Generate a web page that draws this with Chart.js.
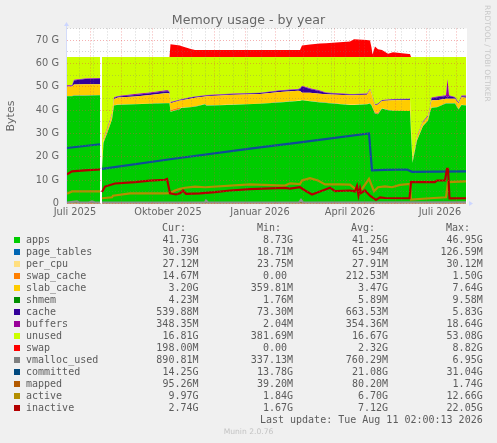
<!DOCTYPE html>
<html><head><meta charset="utf-8">
<script src="https://cdn.jsdelivr.net/npm/chart.js@4"></script>
<style>
html,body{margin:0;padding:0;background:#f0f0f0;width:497px;height:443px;overflow:hidden}
#wrap{position:relative;width:497px;height:443px}
canvas{position:absolute;left:0;top:0}
.t{position:absolute;font:10px/12px "DejaVu Sans Mono",monospace;color:#5c5c5c;white-space:pre}
.s{position:absolute;width:6px;height:6px}
</style></head><body>
<div id="wrap"><canvas id="c" width="497" height="443"></canvas></div>
<script>
// Days since the left edge of the one-year window
const days=[0,5,7,18,32,33,34,35,36.5,40,43,45,47,51,68,83,99,101,102.5,103.5,113,114,123,128,138,139.5,167,193,213,231,233,235,243,253,259,283,287,300,303,304.5,305.5,308,311,315,321,326,342,343,344,345.5,350,356,361,363,364.5,370,379,380.5,382,388,391.5,394.5,399];
// Stacked areas (gigabytes)
const apps=[46,46,46.2,46.2,46.4,46.4,null,15,26,30,33.5,36,42,42.3,42.5,42.7,43,43,43,39.3,40.4,40.9,41.2,41.5,42.5,41.9,42.3,42.7,43.3,43.9,43.9,44.2,43.8,43.3,43.1,42.2,42.2,42.5,42.8,42,41,38.5,38.3,40.7,40,39.7,39.6,39.6,30,17.5,27,33.2,35.5,39,41,41.2,42.9,42.9,42.9,42.9,40.3,42.2,42];
const page_tables=[.06,.06,.06,.06,.06,.06,null,.05,.05,.05,.05,.05,.06,.06,.06,.06,.06,.06,.06,.06,.06,.06,.06,.06,.06,.06,.06,.06,.06,.06,.06,.06,.06,.06,.06,.06,.06,.06,.06,.06,.06,.06,.06,.06,.06,.06,.06,.06,.06,.06,.06,.06,.06,.06,.06,.06,.06,.06,.06,.06,.06,.06,.06];
const per_cpu=[.03,.03,.03,.03,.03,.03,null,.04,.04,.04,.04,.04,.03,.03,.03,.03,.03,.03,.03,.03,.03,.03,.03,.03,.03,.03,.03,.03,.03,.03,.03,.03,.03,.03,.03,.03,.03,.03,.03,.03,.03,.03,.03,.03,.03,.03,.03,.03,.03,.03,.03,.03,.03,.03,.03,.03,.03,.03,.03,.03,.03,.03,.03];
const swap_cache=[0,0,0,0,0,0,null,0,0,0,0,0,0,0,0,0,0,0,0,.7,.8,0,0,0,0,0,0,0,0,0,0,0,0,0,0,0,0,0,0,0,0,.5,.5,0,0,0,0,0,0,0,0,0,0,0,0,0,0,0,0,0,0,0,0];
const slab_cache=[4,4,4.7,4.8,4.6,4.6,null,1,1.2,1.5,1.8,2,2.7,3,3.3,3.7,4.2,4.2,4,2.9,2.8,3.2,3.6,3.7,3.3,4,4.2,4.1,4.4,4.3,4.2,3.2,3.6,3.6,3.6,4.1,4.1,4,5.8,5,4.2,3,3.5,3.1,4,4.5,4.7,4.7,3.5,1,1.6,1.5,1.6,1.6,3.2,3,1.9,1.9,1.9,1.9,2.5,3.2,3.2];
const shmem=[.01,.01,.01,.01,.01,.01,null,.01,.01,.01,.01,.01,.01,.01,.01,.01,.01,.01,.01,.01,.01,.01,.01,.01,.01,.01,.01,.01,.01,.01,.01,.01,.01,.01,.01,.01,.01,.01,.01,.01,.01,.01,.01,.01,.01,.01,.01,.01,.01,.01,.01,.01,.01,.01,.01,.01,.01,.01,.01,.01,.01,.01,.01];
const cache=[.3,.3,1.7,2.2,2.4,2.4,null,.2,.3,.3,.3,.3,.4,.4,.6,.7,.8,.8,.5,.3,.3,.3,.4,.4,.3,.3,.3,.4,.5,.6,.9,2.7,1.6,1.1,.5,.3,.3,.3,.3,.2,.2,.2,.3,.3,.3,.3,.3,.3,.2,.1,.2,.3,.3,.3,.8,1.2,1.2,.5,1.2,.5,.3,.5,.6];
const buffers=[.3,.3,.3,.3,.3,.3,null,.2,.2,.2,.2,.2,.3,.3,.4,.4,.4,.4,.3,.2,.2,.2,.2,.2,.2,.2,.2,.2,.2,.2,.3,.3,.3,.3,.3,.2,.2,.2,.2,.2,.2,.2,.2,.2,.2,.2,.2,.2,.1,.1,.2,.2,.2,.2,.3,.3,.3,8,.3,.2,.2,.3,.35];
const unused=[12.1,12.1,9.8,9.2,9,9,null,46.3,35,30.7,26.9,24.2,17.3,16.7,15.9,15.2,14.3,14.3,14.9,19.3,18.2,18.1,17.3,16.9,16.4,16.3,15.7,15.3,14.3,13.7,13.4,12.3,13.4,14.4,15.2,15.9,15.9,15.7,13.6,15.3,17.1,20.3,19.9,18.4,18.2,18,17.9,17.9,28.9,44,33.7,27.5,25.1,21.6,17.4,17,16.4,9.4,16.4,17.2,19.4,16.5,16.55];
const swap=[0,0,0,0,0,0,null,0,0,0,0,0,0,0,0,0,0,0,0,5.4,4.9,4.7,3.5,3,3,3,3,3,3,3,3,4.9,5.3,5.7,5.9,6.6,7.6,7.2,7,4,1,4.5,3.3,3,1.4,2,1.2,1.2,0,0,0,0,0,0,0,0,0,0,0,0,0,0,0];
// Lines, each with its own sample days
const vmallocDays=[0,10,12,22,25,28,33,34,35,138,139,141,232,234,236,399];
const vmalloc_used=[.45,.9,.45,.45,.9,.45,.45,null,.45,.45,1.3,.45,.45,1.6,.45,.5];
const committedDays=[0,33,34,35,103,183,233,302,305,318,340,345,399];
const committed=[23.8,25.4,null,14.9,19,23.5,26.2,30,14.2,14.4,14.6,13.6,13.8];
const mappedDays=[0,33,34,35,200,399];
const mapped=[.1,.1,null,.08,.09,.095];
const activeDays=[0,5,33,34,35,45,46,63,98,103,108,113,118,128,138,183,218,223,233,235,243,251,258,265,273,283,291,295,302,307,311,318,325,333,343,344,363,379,381,399];
const active=[4.2,5.2,5.2,null,2.3,2.7,3.4,4.4,4.4,4.5,5.6,6.3,6.8,7.3,7,8.2,7.7,8.7,8.4,9.9,10.9,9.9,8.2,8.2,8.2,8.1,5.3,6.3,10.6,5.3,7,7.4,7,8,8.4,1.7,2.3,2.7,9.2,9.5];
const inactiveDays=[0,5,18,33,34,35,38,48,68,83,98,100,103,109,113,116,119,133,148,163,183,218,223,233,238,245,253,263,268,283,288,290,291.5,293,294,298,303,309,313,318,341,342.5,344,368,370,378,380,381,382.5,399];
const inactive=[12.5,13.8,14.2,14.6,null,5,7.3,8.6,9.2,9.8,10.2,10.5,4.4,3.9,4.4,5.6,4.2,4.4,4.9,5.6,6.2,6.7,6.4,7,5.6,3.9,5.2,6.8,5.3,5.6,5.2,7.5,3.6,6.5,4.5,5.6,3.4,1.6,2.7,2.4,2.3,2.3,9.2,9.2,9.9,9.9,14.9,14.9,2.2,2.3];
// Axis ticks
const yTicksMajor=[0,10,20,30,40,50,60,70];
const yTicksMinor=[5,15,25,35,45,55,65,75];
const xMonthTicks=[23,54,85,115,147,178,208,236,267,297,328,359,389];
const xFortnightTicks=[12,26,40,68,82,96,110,124,138,152,166,180,194,222,250,264,278,292,306,320,334,348,362,376];
const xLabelTicks=[8,101,193,283,373];
const xLabelText=["Juli 2025","Oktober 2025","Januar 2026","April 2026","Juli 2026"];
// Legend table
const legendNames=["apps","page_tables","per_cpu","swap_cache","slab_cache","shmem","cache","buffers","unused","swap","vmalloc_used","committed","mapped","active","inactive"];
const legendColors=["#00CC00","#0066B3","#FFDF80","#FF8000","#FFCC00","#008F00","#330099","#990099","#CCFF00","#FF0000","#808080","#00487D","#B35A00","#B38F00","#B30000"];
const legendCur=["41.73G","30.39M","27.12M","14.67M","3.20G","4.23M","539.88M","348.35M","16.81G","198.00M","890.81M","14.25G","95.26M","9.97G","2.74G"];
const legendMin=["8.73G","18.71M","23.75M","0.00 ","359.81M","1.76M","73.30M","2.04M","381.69M","0.00 ","337.13M","13.78G","39.20M","1.84G","1.67G"];
const legendAvg=["41.25G","65.94M","27.91M","212.53M","3.47G","5.89M","663.53M","354.36M","16.67G","2.32G","760.29M","21.08G","80.20M","6.70G","7.12G"];
const legendMax=["46.95G","126.59M","30.12M","1.50G","7.64G","9.58M","5.83G","18.64G","53.08G","8.82G","6.95G","31.04G","1.74G","12.66G","22.05G"];

const wrap=document.getElementById('wrap');
function addText(txt,css,cls){const d=document.createElement('div');d.className=cls||'t';d.textContent=txt;d.style.cssText+=css;wrap.appendChild(d);return d;}
const rowTop=i=>234+12*i;
[["Cur:",186],["Min:",281],["Avg:",375],["Max:",470]].forEach(h=>addText(h[0],`right:${497-h[1]}px;top:222px`));
legendNames.forEach((n,i)=>{
  const s=document.createElement('div');s.className='s';s.style.cssText=`left:14px;top:${rowTop(i)+3}px;background:${legendColors[i]}`;wrap.appendChild(s);
  addText(n,`left:26px;top:${rowTop(i)}px`);
  addText(legendCur[i],`right:${497-198.5}px;top:${rowTop(i)}px`);
  addText(legendMin[i],`right:${497-293}px;top:${rowTop(i)}px`);
  addText(legendAvg[i],`right:${497-388}px;top:${rowTop(i)}px`);
  addText(legendMax[i],`right:${497-482.7}px;top:${rowTop(i)}px`);
});
addText("Last update: Tue Aug 11 02:00:13 2026",`right:${497-482.7}px;top:414px`);
addText("Munin 2.0.76",`left:0;width:497px;text-align:center;top:426px;font:7.6px/12px "DejaVu Sans",sans-serif;color:#c4c4c4`);
addText("RRDTOOL / TOBI OETIKER",`left:483px;top:5px;writing-mode:vertical-rl;font:7.5px/9px "DejaVu Sans",sans-serif;color:#c8c8c8`);

const pts=(xs,ys)=>xs.map((x,i)=>({x,y:ys[i]}));
const area=(label,vals,color,i)=>({label,data:pts(days,vals),type:'line',backgroundColor:color,borderWidth:0,borderColor:color,pointRadius:0,fill:i===0?'origin':'-1',stack:'mem',order:100,spanGaps:false,tension:0});
const line=(label,xs,vals,color,order)=>({label,data:pts(xs,vals),type:'line',backgroundColor:color,borderColor:color,borderWidth:2.2,pointRadius:0,fill:false,stack:label,order,spanGaps:false,tension:0,borderJoinStyle:'miter'});
const arrowsAndBack={id:'frame',
  beforeDraw(c){const a=c.chartArea,x=c.ctx;x.save();x.fillStyle='#fff';x.fillRect(a.left,a.top,a.width+1,a.height);x.restore();},
  afterDraw(c){const a=c.chartArea,x=c.ctx;x.save();x.fillStyle='#ccd6ff';x.strokeStyle='#d4dcfa';x.lineWidth=1;
    x.beginPath();x.moveTo(a.left-.5,a.top-3);x.lineTo(a.left-.5,a.bottom);x.stroke();
    x.beginPath();x.moveTo(a.left-3,a.top-2.5);x.lineTo(a.left+2,a.top-2.5);x.lineTo(a.left-.5,a.top-6.5);x.fill();
    x.beginPath();x.moveTo(a.right+3,a.bottom-2.5);x.lineTo(a.right+3,a.bottom+2.5);x.lineTo(a.right+7,a.bottom);x.fill();
    x.restore();}};
const majorX=v=>xMonthTicks.includes(v), isLabel=v=>xLabelTicks.includes(v);
new Chart(document.getElementById('c'),{
  type:'line',
  data:{datasets:[
    area('apps',apps,'#00CC00',0),area('page_tables',page_tables,'#0066B3',1),area('per_cpu',per_cpu,'#FFDF80',2),
    area('swap_cache',swap_cache,'#FF8000',3),area('slab_cache',slab_cache,'#FFCC00',4),area('shmem',shmem,'#008F00',5),
    area('cache',cache,'#330099',6),area('buffers',buffers,'#990099',7),area('unused',unused,'#CCFF00',8),area('swap',swap,'#FF0000',9),
    line('vmalloc_used',vmallocDays,vmalloc_used,'#909090',5),line('committed',committedDays,committed,'#0F4C98',4),
    line('mapped',mappedDays,mapped,'#B35A00',6),line('active',activeDays,active,'#B38F00',2),line('inactive',inactiveDays,inactive,'#B30000',1)
  ]},
  plugins:[arrowsAndBack],
  options:{
    responsive:false,animation:false,
    layout:{padding:{left:0,top:0,right:0,bottom:219.4}},
    plugins:{legend:{display:false},tooltip:{enabled:false},
      title:{display:true,text:'Memory usage - by year',color:'#666',font:{family:'"DejaVu Sans"',size:12.6,weight:'normal'},padding:{top:13,bottom:.3}}},
    scales:{
      x:{type:'linear',min:0,max:399,
        afterBuildTicks(s){s.ticks=[...xMonthTicks,...xFortnightTicks,...xLabelTicks].sort((a,b)=>a-b).map(value=>({value}));},
        afterFit(s){s.height=20;s.paddingLeft=0;s.paddingRight=0;},
        ticks:{autoSkip:false,maxRotation:0,minRotation:0,padding:3,color:'#666',font:{family:'"DejaVu Sans"',size:9.8},
          callback(v){const i=xLabelTicks.indexOf(v);return i>=0?xLabelText[i]:'';}},
        grid:{z:1,drawTicks:false,color:c=>isLabel(c.tick.value)?'transparent':(majorX(c.tick.value)?'rgba(230,70,70,.42)':'rgba(120,120,120,.32)'),lineWidth:1},
        border:{display:false,dash:[1,2]}},
      y:{type:'linear',stacked:true,min:0,max:75,
        afterBuildTicks(s){s.ticks=[...yTicksMajor,...yTicksMinor].sort((a,b)=>a-b).map(value=>({value}));},
        afterFit(s){s.width=67;s.paddingTop=0;s.paddingBottom=0;},
        title:{display:true,text:'Bytes',color:'#666',font:{family:'"DejaVu Sans"',size:11},padding:{top:5,bottom:0}},
        ticks:{autoSkip:false,padding:8,color:'#666',font:{family:'"DejaVu Sans"',size:9.8},
          callback(v){return yTicksMajor.includes(v)?(v===0?'0':v+' G'):'';}},
        grid:{z:1,drawTicks:false,color:c=>yTicksMajor.includes(c.tick.value)?'rgba(230,70,70,.42)':'rgba(120,120,120,.32)',lineWidth:1},
        border:{display:false,dash:[1,2]}},
      margin:{type:'linear',position:'right',display:true,grid:{display:false},border:{display:false},ticks:{display:false},
        afterFit(s){s.width=31;s.paddingTop=0;s.paddingBottom=0;}}
    }
  }
});
</script></body></html>
